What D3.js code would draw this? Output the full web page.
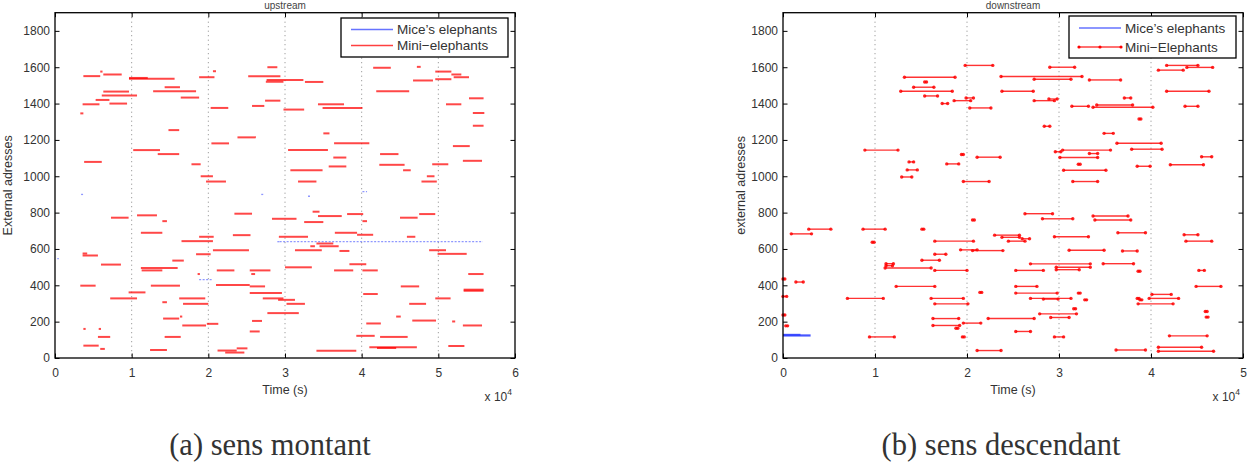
<!DOCTYPE html>
<html><head><meta charset="utf-8">
<script src="https://cdn.jsdelivr.net/npm/d3@7"></script>
<style>body{margin:0;background:#fff}svg{display:block}</style>
</head><body>
<svg id="c" width="1254" height="467"></svg>
<script>
// ---------- data (time in thousands of seconds, address index) ----------
const yTicks = [0,200,400,600,800,1000,1200,1400,1600,1800];
const upXTicks = [0,1,2,3,4,5,6];      // x 10^4 s
const downXTicks = [0,1,2,3,4,5];      // x 10^4 s

// upstream mini-elephants: [start, end, address]
const upMini = [
[3.7,5.9,1551],[5.9,6.2,1576],[6.3,8.7,1560],[9.65,12.1,1541],[9.65,15.6,1536],[14.3,16.3,1490],[12.8,18.4,1468],
[6.3,9.65,1466],[6.1,10.7,1444],[16.4,18.8,1433],[5.3,7.1,1420],[3.6,5.8,1396],[7.1,9.4,1400],[3.3,3.7,1346],
[14.8,16.2,1254],[10.2,13.7,1144],[13.4,16.2,1122],[3.8,6.1,1079],[17.8,19.0,1066],[19.0,20.6,1000],[19.7,22.3,971],
[18.8,20.8,1545],[20.6,21.0,1578],[20.3,22.6,1376],[20.4,22.7,1181],[23.8,26.2,1214],[27.7,29.0,1600],[25.2,29.4,1551],
[27.6,32.4,1530],[27.5,29.8,1520],[27.4,29.4,1416],[25.7,27.3,1387],[29.8,32.5,1367],
[32.6,35.0,1519],[41.5,43.8,1597],[47.2,47.7,1602],[49.6,51.7,1576],[51.7,53.0,1560],[52.0,54.0,1545],[49.6,51.7,1534],
[46.7,49.3,1527],[41.9,46.2,1468],[54.0,55.9,1429],[34.3,37.7,1396],[51.0,53.0,1396],[34.9,40.1,1376],[54.5,56.0,1348],
[54.5,55.9,1278],[35.0,35.8,1236],[36.4,41.0,1181],[51.9,54.1,1166],[30.4,35.6,1144],[42.4,44.8,1122],[36.3,38.0,1103],
[53.2,55.7,1085],[42.3,45.6,1063],[49.2,51.3,1066],[35.7,38.0,1054],[30.7,34.9,1033],[45.4,46.4,1033],[48.5,49.5,1000],
[31.7,34.1,971],[47.8,49.8,971],
[7.3,9.6,772],[10.7,13.3,785],[14.0,14.6,753],[23.4,25.7,794],[28.3,31.5,766],[11.2,14.0,689],[18.8,20.7,667],
[23.2,25.5,676],[29.2,33.0,667],[16.5,20.6,643],[20.6,25.3,593],[18.4,20.3,571],[3.6,5.6,564],[3.6,4.2,575],
[15.3,16.8,536],[6.0,8.6,514],[11.2,16.0,495],[11.3,14.0,482],[21.1,23.4,482],[25.4,28.1,482],[18.6,18.9,462],
[25.6,26.1,462],[3.3,5.3,398],[12.5,16.3,398],[21.0,25.4,401],[25.4,27.4,394],[9.6,11.8,361],[25.4,29.6,357],
[7.2,10.7,328],[16.2,19.6,328],[27.1,29.8,328],[29.1,31.3,320],[16.7,20.0,298],[30.2,32.6,298],[14.0,14.6,307],
[27.7,31.8,247],[16.3,16.6,228],[14.1,16.2,217],[25.7,27.0,204],[19.8,21.3,188],[16.6,19.7,179],[3.7,4.0,160],
[5.7,6.0,160],[25.4,26.7,146],[5.6,7.2,116],[14.3,16.4,116],[3.7,5.7,68],[5.9,6.5,50],[12.4,14.6,44],[21.2,23.7,41],
[22.2,24.7,30],[23.7,25.1,53],
[33.6,34.5,805],[34.3,37.4,781],[38.1,40.2,792],[47.5,49.6,792],[45.0,47.3,772],[40.1,40.7,753],[32.5,35.0,748],
[36.5,39.4,689],[39.4,41.5,678],[45.9,47.0,667],[34.1,36.3,630],[34.5,37.0,615],[33.3,33.9,615],[31.3,34.8,593],
[37.1,38.4,589],[48.8,51.0,593],[49.9,53.7,573],[38.4,40.6,516],[30.0,33.5,499],[36.4,38.9,482],[40.1,42.1,482],
[53.9,55.9,462],[45.1,47.5,394],[53.3,55.9,376],[53.3,55.9,370],[40.2,42.1,352],[49.6,51.6,328],[46.2,48.4,298],
[44.5,45.1,228],[46.6,49.7,206],[51.8,52.2,201],[40.6,42.5,190],[53.2,55.7,179],[39.3,41.7,122],[42.4,46.0,116],
[51.3,53.4,66],[41.0,47.2,59],[42.0,44.5,55],[34.1,39.3,40]
];
// upstream mice's elephants
const upMice = [
[29.3,55.8,640],[18.8,20.6,431],[0.3,0.5,547],[3.4,3.7,900],[26.9,27.2,900],[33.0,33.3,890],[40.1,40.7,916],[29.0,29.4,640]
];
// downstream mini-elephants
const downMini = [
[19.8,22.8,1610],[13.2,18.7,1545],[15.4,15.6,1519],[14.2,16.4,1490],[12.8,18.4,1468],[23.8,27.2,1468],[15.4,16.8,1442],
[19.9,20.7,1431],[18.6,20.4,1416],[17.3,17.9,1400],[20.3,22.6,1376],[8.9,12.5,1144],[19.4,19.6,1120],[21.1,23.6,1105],
[13.7,14.2,1079],[17.8,19.1,1068],[13.5,14.6,1035],[12.9,14.0,996],[19.6,22.4,971],
[29.0,31.7,1600],[40.8,43.5,1584],[41.7,45.1,1610],[43.9,46.7,1599],[23.7,32.5,1549],[27.3,31.3,1534],[33.3,36.7,1530],
[41.7,46.3,1468],[37.1,37.8,1431],[28.9,29.8,1425],[27.3,29.5,1416],[31.4,33.2,1385],[34.1,38.0,1392],[33.7,40.2,1380],
[43.7,45.1,1385],[38.7,38.9,1315],[28.4,29.0,1275],[34.9,35.9,1236],[36.3,41.1,1182],[37.9,41.2,1149],[30.4,35.6,1144],
[29.6,30.2,1135],[33.3,34.2,1125],[30.1,34.2,1103],[32.1,32.3,1066],[42.1,45.7,1063],[45.5,46.6,1107],[38.5,39.9,1055],
[30.5,35.1,1033],[31.5,34.2,971],
[20.6,20.8,759],[2.8,5.2,709],[8.7,11.1,709],[15.1,15.3,709],[0.9,3.1,683],[23.0,25.7,676],[23.8,25.7,664],[16.5,20.7,643],
[24.5,26.3,643],[9.7,9.9,637],[19.3,21.1,595],[20.6,23.9,591],[16.5,17.7,571],[15.1,17.0,538],[11.2,12.0,519],[11.2,11.9,508],
[11.1,16.1,495],[16.5,20.0,482],[25.3,28.3,482],[0,0.2,435],[1.4,2.2,418],[12.3,16.5,394],[25.3,27.6,394],[21.4,21.6,361],
[25.3,29.8,357],[0,0.4,339],[7.0,10.9,328],[16.1,19.6,328],[26.9,31.3,328],[28.3,29.9,324],[16.5,20.1,298],[38.6,42.4,298],
[0,0.2,237],[16.3,19.1,217],[22.3,27.3,217],[27.9,31.9,243],[29.1,31.1,223],[19.6,21.5,192],[16.3,19.2,179],[0.3,0.5,177],
[18.8,19.0,164],[25.3,26.9,146],[9.4,12.1,116],[19.5,19.7,116],[29.5,30.5,116],[21.1,23.7,41],
[26.3,29.3,794],[33.7,37.5,781],[28.2,31.5,766],[33.9,37.8,759],[36.4,39.4,689],[43.6,45.1,678],[29.5,33.2,667],
[26.0,26.8,656],[43.8,46.6,643],[31.1,34.9,593],[36.9,38.5,589],[26.9,33.4,518],[34.8,38.1,519],[29.7,33.4,499],
[29.7,32.2,486],[38.6,38.8,477],[45.2,45.8,482],[44.9,47.6,394],[32.1,32.3,357],[40.1,42.2,350],[39.8,43.0,328],
[38.5,38.7,328],[38.8,39.0,320],[32.8,33.0,320],[31.6,31.8,271],[45.9,46.1,256],[46.0,46.2,225],[42.0,46.1,122],
[40.8,45.5,59],[36.2,39.4,44],[40.8,46.8,37]
];
// downstream mice's elephants
const downMice = [[0,3.0,124],[0,1.9,127]];

// ---------- drawing ----------
const svg = d3.select('#c');
const FONT = '"Liberation Sans", Arial, Helvetica, sans-serif';
const TOP = 12.7, BOT = 358;

function panel(o){
  const x = d3.scaleLinear().domain([0, o.xTicks[o.xTicks.length-1]*1e4]).range([o.x0, o.x1]);
  const y = d3.scaleLinear().domain([0, 1900]).range([BOT, TOP]);
  const g = svg.append('g');
  const tv = o.xTicks.map(d => d*1e4);

  // grid
  g.append('g').selectAll('line').data(tv.slice(1, -1)).join('line')
    .attr('x1', d => x(d)).attr('x2', d => x(d)).attr('y1', TOP).attr('y2', BOT)
    .attr('stroke', '#888').attr('stroke-width', 1).attr('stroke-dasharray', '1,3.5');

  // axes
  const styleAxis = a => { a.select('.domain').remove();
    a.selectAll('text').attr('font-family', FONT).attr('font-size', 12).attr('fill', '#333');
    a.selectAll('line').attr('stroke', '#000'); };
  g.append('g').attr('transform', `translate(0,${BOT})`)
    .call(d3.axisBottom(x).tickValues(tv).tickSize(-4.5).tickPadding(10).tickFormat(d => d/1e4)).call(styleAxis);
  g.append('g').attr('transform', `translate(0,${TOP})`)
    .call(d3.axisTop(x).tickValues(tv).tickSize(-4.5).tickFormat('')).call(styleAxis);
  g.append('g').attr('transform', `translate(${o.x0},0)`)
    .call(d3.axisLeft(y).tickValues(yTicks).tickSize(-4.5).tickPadding(5).tickFormat(d3.format('d'))).call(styleAxis);
  g.append('g').attr('transform', `translate(${o.x1},0)`)
    .call(d3.axisRight(y).tickValues(yTicks).tickSize(-4.5).tickFormat('')).call(styleAxis);

  // segments
  const seg = (data, color, w, op, dash) => g.append('g').selectAll('line').data(data).join('line')
    .attr('x1', d => x(d[0]*1000)).attr('x2', d => x(d[1]*1000))
    .attr('y1', d => y(d[2])).attr('y2', d => y(d[2]))
    .attr('stroke', color).attr('stroke-width', w).attr('stroke-opacity', op)
    .attr('stroke-dasharray', dash || null).attr('stroke-linecap', 'butt');
  seg(o.mini, '#ff0000', o.redW, o.redOp);
  seg(o.mice, '#3344ff', o.blueW, o.blueOp, o.blueDash);
  if (o.markers) {
    const pts = o.mini.flatMap(d => [[d[0], d[2]], [d[1], d[2]]]);
    g.append('g').selectAll('circle').data(pts).join('circle')
      .attr('cx', d => x(d[0]*1000)).attr('cy', d => y(d[1])).attr('r', 1.7).attr('fill', '#ff0000').attr('fill-opacity', 0.85);
  }

  // box
  g.append('rect').attr('x', o.x0).attr('y', TOP).attr('width', o.x1-o.x0).attr('height', BOT-TOP)
    .attr('fill', 'none').attr('stroke', '#000').attr('stroke-width', 1.3);

  const cx = (o.x0 + o.x1)/2;
  // title
  g.append('text').attr('x', cx).attr('y', 8.5).attr('text-anchor', 'middle')
    .attr('font-family', FONT).attr('font-size', 10).attr('fill', '#444').text(o.title);
  // axis labels
  g.append('text').attr('x', cx).attr('y', 394).attr('text-anchor', 'middle')
    .attr('font-family', FONT).attr('font-size', 12.5).attr('fill', '#333').text('Time (s)');
  const ex = g.append('text').attr('x', o.x1 - 3).attr('y', 401).attr('text-anchor', 'end')
    .attr('font-family', FONT).attr('font-size', 12).attr('fill', '#333');
  ex.append('tspan').text('x 10');
  ex.append('tspan').attr('dy', -6).attr('font-size', 8.5).text('4');
  g.append('text').attr('transform', `translate(${o.yLabX},${(TOP+BOT)/2}) rotate(-90)`)
    .attr('text-anchor', 'middle').attr('font-family', FONT).attr('font-size', 12.5).attr('fill', '#333').text(o.yLabel);

  // legend
  const L = o.legend;
  g.append('rect').attr('x', L.x).attr('y', L.y).attr('width', L.w).attr('height', L.h)
    .attr('fill', '#fff').attr('stroke', '#000').attr('stroke-width', 1.3);
  const items = [{t: "Mice\u2019s elephants", c: '#3344ff'}, {t: o.miniLabel, c: '#ff0000'}];
  items.forEach((it, i) => {
    const yy = L.y + L.rows[i];
    g.append('line').attr('x1', L.x + 10).attr('x2', L.x + 52).attr('y1', yy).attr('y2', yy)
      .attr('stroke', it.c).attr('stroke-width', 1.6).attr('stroke-opacity', 0.75);
    if (o.markers && i === 1) {
      [L.x + 10, L.x + 31, L.x + 52].forEach(px => g.append('circle').attr('cx', px).attr('cy', yy).attr('r', 1.6).attr('fill', '#ff0000'));
    }
    g.append('text').attr('x', L.x + 56).attr('y', yy + 4.6).attr('font-family', FONT).attr('font-size', 13.5)
      .attr('fill', '#333').text(it.t);
  });

  // caption
  g.append('text').attr('x', o.capX).attr('y', 455).attr('text-anchor', 'middle')
    .attr('font-family', '"Liberation Serif", "Times New Roman", serif').attr('font-size', 30.5).attr('fill', '#333')
    .text(o.caption);
}

panel({x0: 55, x1: 515, xTicks: upXTicks, mini: upMini, mice: upMice, redW: 2, redOp: 0.72, blueW: 1.3, blueOp: 0.55, blueDash: '2,1.5',
  markers: false, title: 'upstream', yLabel: 'External adresses', yLabX: 12, miniLabel: 'Mini\u2212elephants',
  legend: {x: 341, y: 18, w: 167, h: 39, rows: [11.5, 27.5]}, caption: '(a) sens montant', capX: 270});
panel({x0: 783, x1: 1243, xTicks: downXTicks, mini: downMini, mice: downMice, redW: 1.4, redOp: 0.8, blueW: 2.2, blueOp: 0.9,
  markers: true, title: 'downstream', yLabel: 'external adresses', yLabX: 745, miniLabel: 'Mini\u2212Elephants',
  legend: {x: 1069, y: 16, w: 167, h: 42, rows: [12, 31]}, caption: '(b) sens descendant', capX: 1001});
</script>
</body></html>
